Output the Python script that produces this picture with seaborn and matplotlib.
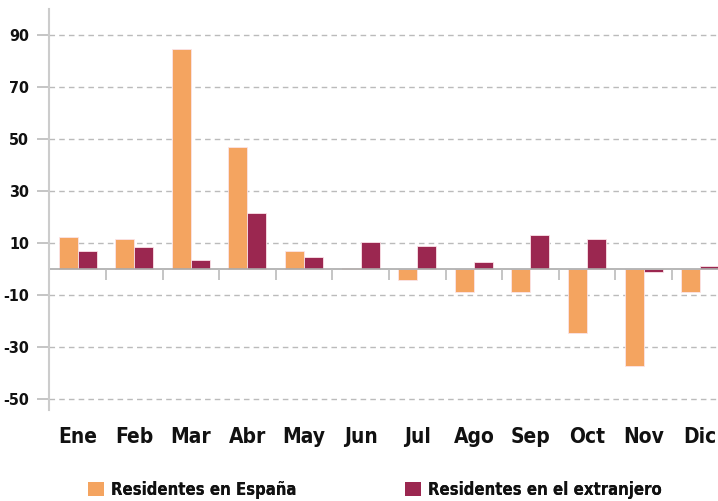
import pandas as pd
import matplotlib.pyplot as plt
import seaborn as sns
from matplotlib.patches import Patch
from matplotlib import font_manager

# Data
months = ['Ene', 'Feb', 'Mar', 'Abr', 'May', 'Jun', 'Jul', 'Ago', 'Sep', 'Oct', 'Nov', 'Dic']
espana = [12.4, 11.5, 84.5, 46.8, 6.9, 0.4, -4.2, -9.0, -8.8, -24.5, -37.2, -8.7]
extranjero = [6.9, 8.3, 3.6, 21.7, 4.7, 10.6, 8.8, 2.8, 13.1, 11.5, -1.2, 1.2]
series = ['Residentes en España', 'Residentes en el extranjero']
colors = ['#F4A460', '#9B2750']
yticks = [90, 70, 50, 30, 10, -10, -30, -50]


def find_condensed():
    # prefer a condensed bold face of a plain sans family
    families = ['Noto Sans', 'Roboto', 'Open Sans', 'Liberation Sans Narrow', 'DejaVu Sans', 'Lato']
    rank = {'extra-condensed': 0, 'condensed': 1, 'semi-condensed': 2}
    best = None
    for f in font_manager.fontManager.ttflist:
        if f.name not in families or f.style != 'normal':
            continue
        w = f.weight if isinstance(f.weight, int) else 700 if 'bold' in str(f.weight) else 400
        if w < 650 or w > 750:
            continue
        st = str(f.stretch)
        r = rank.get(st, 1 if 'Narrow' in f.name else None)
        if r is None:
            continue
        if best is None or r < best[0]:
            best = (r, f.fname)
    if best is not None:
        return best[1], best[0]
    # otherwise any condensed bold file name
    files = sorted(f.fname for f in font_manager.fontManager.ttflist)
    for key in ['ExtraCondensedBold', 'CondensedBold', 'Condensed-Bold', 'NarrowBold', 'Narrow-Bold']:
        for fn in files:
            name = fn.split('/')[-1]
            if key in name and not any(b in name for b in ['Italic', 'Semi', 'Mono', 'Serif']):
                return fn, 3
    return None, None


def run():
    df = pd.DataFrame({
        'mes': months * 2,
        'valor': espana + extranjero,
        'serie': [series[0]] * len(months) + [series[1]] * len(months),
    })

    sns.set_style('white')
    plt.rcParams['font.family'] = ['DejaVu Sans']

    fname, r = find_condensed()
    if fname is not None:
        fp = font_manager.FontProperties(fname=fname)
        if r == 0:
            xs, ys, ls = 17, 13, 15
        elif r == 3:
            xs, ys, ls = 16, 12, 13
        else:
            xs, ys, ls = 15, 11.5, 12
    else:
        fp = font_manager.FontProperties(family='DejaVu Sans', weight='bold')
        xs, ys, ls = 12, 10, 10

    fig = plt.figure(figsize=(7.18, 5.01), dpi=100)
    ax = fig.add_axes([0.0687, 0.1816, 0.946, 0.8004])

    sns.barplot(data=df, x='mes', y='valor', hue='serie', palette=colors,
                width=0.67, ax=ax, legend=False, edgecolor='#fbe3e8', linewidth=0.6,
                saturation=1)

    ax.set_ylim(-54.2, 100)
    ax.set_xlim(-0.5, len(months) - 0.5)
    ax.set_yticks(yticks)
    ax.set_yticklabels([str(v) for v in yticks])
    ax.yaxis.grid(True, linestyle=(0, (4, 3)), color='#bbbbbb', linewidth=1)
    ax.set_axisbelow(True)

    # category separators on the bottom edge
    ax.set_xticks([i - 0.5 for i in range(1, len(months))], minor=True)
    ax.set_xticks(range(len(months)))
    ax.set_xticklabels(months)
    for lab in ax.get_xticklabels():
        lab.set_fontproperties(fp)
        lab.set_fontsize(xs)
        lab.set_color('#111111')
    for lab in ax.get_yticklabels():
        lab.set_fontproperties(fp)
        lab.set_fontsize(ys)
        lab.set_color('#111111')
    ax.tick_params(axis='x', which='major', length=0, pad=12)
    ax.tick_params(axis='x', which='minor', direction='in', length=8, color='#bbbbbb', width=1.2)
    ax.tick_params(axis='y', length=8.5, color='#bbbbbb', width=1.2, pad=6, left=True)

    # zero line with short separators below
    ax.axhline(0, color='#aaaaaa', linewidth=1.2, zorder=1)
    ax.vlines([i - 0.5 for i in range(1, len(months))], -4.3, 0, color='#bbbbbb', linewidth=1.2, zorder=1)

    for s in ['top', 'right', 'bottom']:
        ax.spines[s].set_visible(False)
    ax.spines['left'].set_color('#cccccc')
    ax.spines['left'].set_linewidth(1.5)
    ax.set_xlabel('')
    ax.set_ylabel('')

    # legend entries, one per series
    lfp = fp.copy()
    lfp.set_size(ls)
    for i, (name, c) in enumerate(zip(series, colors)):
        x0 = [88, 405][i] / 718
        leg = fig.legend([Patch(facecolor=c, edgecolor='none')], [name], loc='center left',
                         bbox_to_anchor=(x0, 0.022), frameon=False, prop=lfp,
                         handlelength=0.95, handleheight=0.95, handletextpad=0.45,
                         borderpad=0, borderaxespad=0)
        for t in leg.get_texts():
            t.set_color('#111111')
        fig.add_artist(leg)

    fig.savefig('out.png', dpi=100)


if __name__ == "__main__":
    run()
